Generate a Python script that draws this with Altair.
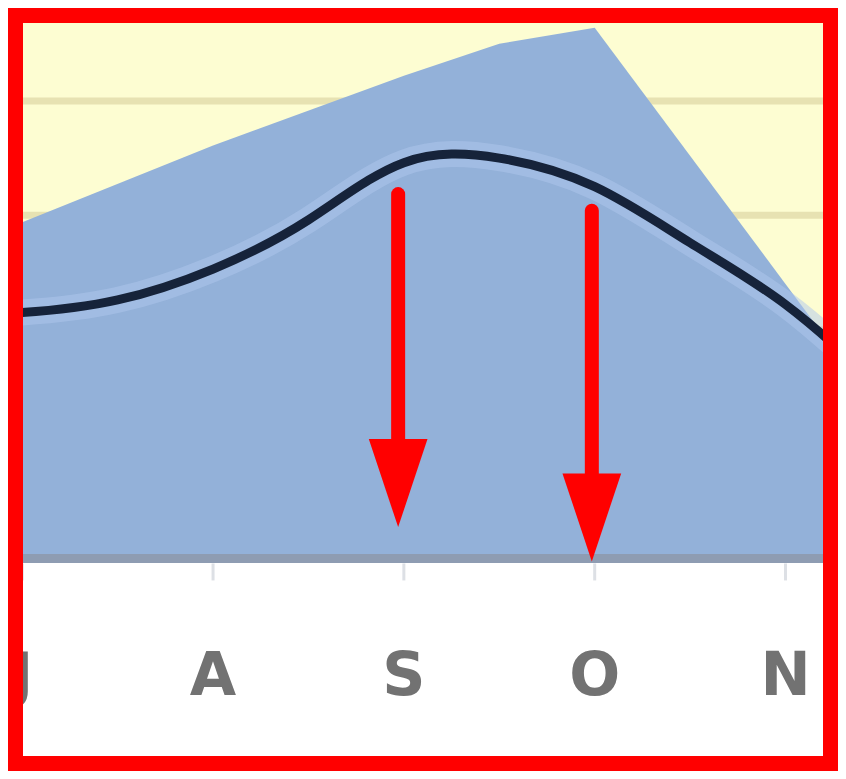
import altair as alt
import pandas as pd

W, H = 830, 763

# month index: 7 = Jul, 8 = Aug, ...
month_pos = [7, 8, 9, 10, 11]
month_labels = ["J", "A", "S", "O", "N"]

area_month = [6, 7, 8, 9, 9.5, 10, 11, 12]
area_value = [22.7, 29.4, 36.1, 42.2, 45.0, 46.4, 24.0, 1.6]

line_month = [6.5, 7.0, 7.5, 8.0, 8.5, 9.0, 9.5, 10.0, 10.5, 11.0, 11.5]
line_value = [21.2, 21.5, 22.6, 25.3, 29.6, 34.6, 35.0, 32.5, 27.6, 22.2, 14.9]

grid_values = [10, 20, 30, 40]

arrow_month = [8.97, 9.985]
arrow_top = [31.85, 30.39]
arrow_tip = [2.74, -0.26]

X_DOMAIN = [6.9254, 11.2751]
Y_DOMAIN = [-18.58, 48.12]

xs = alt.Scale(domain=X_DOMAIN, nice=False, zero=False)
ys = alt.Scale(domain=Y_DOMAIN, nice=False, zero=False)

area_df = pd.DataFrame({"m": area_month, "v": area_value})
line_df = pd.DataFrame({"m": line_month, "v": line_value})
grid_df = pd.DataFrame({"v": grid_values})
lab_df = pd.DataFrame({"m": month_pos, "label": month_labels})
arr_df = pd.DataFrame({"m": arrow_month, "top": arrow_top, "tip": arrow_tip})
one = pd.DataFrame({"k": [0]})

bg = alt.Chart(one).mark_rect(color="#FDFDD2").encode(
    x=alt.value(0), x2=alt.value(W),
    y=alt.Y(datum=0, scale=ys, axis=None), y2=alt.value(0))

grid = alt.Chart(grid_df).mark_rule(color="#E7E2B2", strokeWidth=7).encode(
    y=alt.Y("v:Q", scale=ys, axis=None))

area = alt.Chart(area_df).mark_area(color="#93B1D9", clip=True, interpolate="linear").encode(
    x=alt.X("m:Q", scale=xs, axis=None),
    y=alt.Y("v:Q", scale=ys, axis=None))

baseline = alt.Chart(one).mark_rule(color="#8E9CB2", strokeWidth=9).encode(
    y=alt.Y(datum=0, scale=ys, axis=None))

ticks = alt.Chart(lab_df).mark_rule(color="#DDE0E5", strokeWidth=3, yOffset=5, y2Offset=22).encode(
    x=alt.X("m:Q", scale=xs, axis=None),
    y=alt.Y(datum=0, scale=ys, axis=None), y2=alt.Y2(datum=0))

halo = alt.Chart(line_df).mark_line(color="#AFC8EE", strokeWidth=26, opacity=0.5,
                                    interpolate="natural", clip=True).encode(
    x=alt.X("m:Q", scale=xs, axis=None),
    y=alt.Y("v:Q", scale=ys, axis=None))

line = alt.Chart(line_df).mark_line(color="#16233A", strokeWidth=9,
                                    interpolate="natural", clip=True).encode(
    x=alt.X("m:Q", scale=xs, axis=None),
    y=alt.Y("v:Q", scale=ys, axis=None))

shaft = alt.Chart(arr_df).mark_rule(color="#FF0000", strokeWidth=14, strokeCap="round",
                                    y2Offset=-60).encode(
    x=alt.X("m:Q", scale=xs, axis=None),
    y=alt.Y("top:Q", scale=ys, axis=None),
    y2=alt.Y2("tip:Q"))

head = alt.Chart(arr_df).mark_point(shape="M-0.667,-1L0.667,-1L0,1Z", size=7744,
                                    filled=True, color="#FF0000", opacity=1,
                                    yOffset=-44).encode(
    x=alt.X("m:Q", scale=xs, axis=None),
    y=alt.Y("tip:Q", scale=ys, axis=None))

labels = alt.Chart(lab_df).mark_text(font="DejaVu Sans", fontWeight="bold", fontSize=60,
                                     color="#727272", baseline="alphabetic", align="center",
                                     yOffset=137).encode(
    x=alt.X("m:Q", scale=xs, axis=None),
    y=alt.Y(datum=0, scale=ys, axis=None),
    text="label:N")

border = alt.Chart(one).mark_rect(filled=False, stroke="#FF0000", strokeWidth=15).encode(
    x=alt.value(7.5), x2=alt.value(W - 7.5),
    y=alt.value(7.5), y2=alt.value(H - 7.5))

chart = alt.layer(bg, grid, area, baseline, ticks, halo, line, shaft, head, labels, border).properties(
    width=W, height=H,
    autosize=alt.AutoSizeParams(type="none"),
    padding=0,
    background="white",
).configure_view(strokeWidth=0)

chart.save("out.html", embed_options={"renderer": "svg", "actions": False})
